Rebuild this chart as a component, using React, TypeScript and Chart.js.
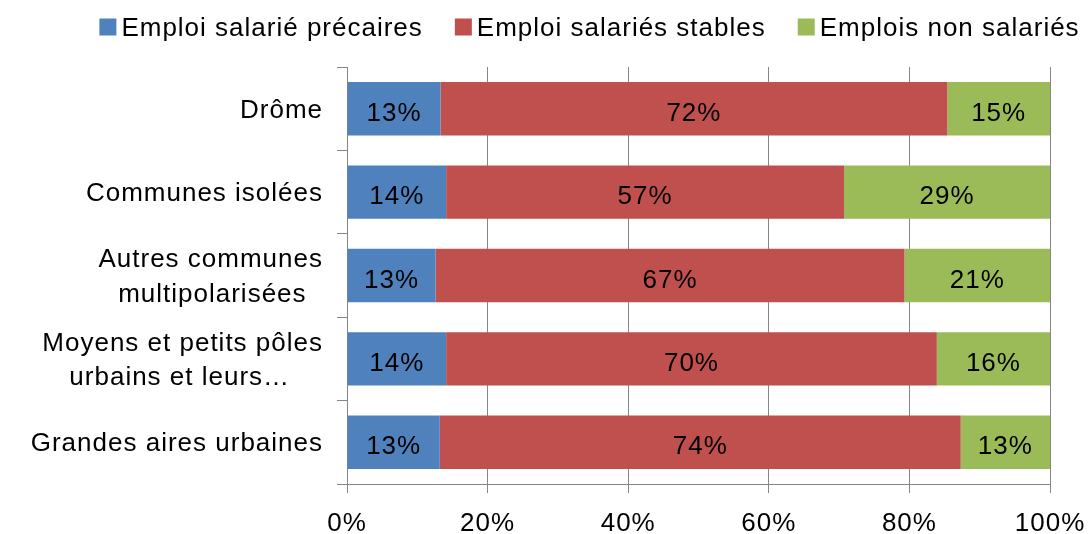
import React, { useEffect, useRef } from 'react';
import { Chart, registerables } from 'chart.js';

Chart.register(...registerables);

const FONT = '"Liberation Sans", Arial, sans-serif';

const categories: (string | string[])[] = [
  'Drôme',
  'Communes isolées',
  ['Autres communes', 'multipolarisées\u00a0\u00a0'],
  ['Moyens et petits pôles', 'urbains et leurs…\u00a0\u00a0\u00a0\u00a0'],
  'Grandes aires urbaines',
];
const seriesNames = ['Emploi salarié précaires', 'Emploi salariés stables', 'Emplois non salariés'];
const precaires = [13.3, 14.1, 12.6, 14.1, 13.2];
const stables = [72.1, 56.6, 66.7, 69.8, 74.1];
const nonSalaries = [14.6, 29.3, 20.7, 16.1, 12.7];
const xTicks = [0, 20, 40, 60, 80, 100];
const colors = ['#4F81BD', '#C0504D', '#9BBB59'];

const GRAY = '#868686';

const spacingPlugin = {
  id: 'letterSpacing',
  beforeUpdate(chart: any) {
    chart.ctx.letterSpacing = '1px';
  },
  beforeLayout(chart: any) {
    chart.ctx.letterSpacing = '1px';
  },
  beforeDraw(chart: any) {
    chart.ctx.letterSpacing = '1px';
  },
};

const legendPlugin = {
  id: 'topLegend',
  afterDraw(chart: any) {
    const ctx = chart.ctx;
    ctx.save();
    ctx.font = `26px ${FONT}`;
    ctx.letterSpacing = '1px';
    const box = 17;
    const gap = 5;
    const spacing = 32;
    const ds = chart.data.datasets;
    const widths = ds.map((d: any) => ctx.measureText(d.label).width);
    const total =
      widths.reduce((a: number, b: number) => a + b, 0) +
      ds.length * (box + gap) +
      (ds.length - 1) * spacing;
    let x = 589.5 - total / 2;
    const yMid = 27;
    ds.forEach((d: any, i: number) => {
      ctx.fillStyle = d.backgroundColor;
      ctx.fillRect(x, yMid - box / 2, box, box);
      x += box + gap;
      ctx.fillStyle = '#000';
      ctx.textAlign = 'left';
      ctx.textBaseline = 'middle';
      ctx.fillText(d.label, x, yMid + 2);
      x += widths[i] + spacing;
    });
    ctx.restore();
  },
};

const valueLabelPlugin = {
  id: 'valueLabels',
  afterDatasetsDraw(chart: any) {
    const ctx = chart.ctx;
    ctx.save();
    ctx.font = `26px ${FONT}`;
    ctx.letterSpacing = '1px';
    ctx.fillStyle = '#000';
    ctx.textAlign = 'center';
    ctx.textBaseline = 'middle';
    chart.data.datasets.forEach((ds: any, i: number) => {
      const meta = chart.getDatasetMeta(i);
      meta.data.forEach((el: any, j: number) => {
        const { x, base, y } = el.getProps(['x', 'base', 'y'], true);
        ctx.fillText(`${Math.round(ds.data[j])}%`, (x + base) / 2, y + 5);
      });
    });
    ctx.restore();
  },
};

export default function App() {
  const canvasRef = useRef<HTMLCanvasElement | null>(null);

  useEffect(() => {
    if (!canvasRef.current) return;
    const seriesData = [precaires, stables, nonSalaries];
    const chart = new Chart(canvasRef.current, {
      type: 'bar',
      data: {
        labels: categories as any,
        datasets: seriesNames.map((name, i) => ({
          label: name,
          data: seriesData[i],
          backgroundColor: colors[i],
          borderWidth: 0,
          barPercentage: 0.64,
          categoryPercentage: 1,
        })),
      },
      options: {
        indexAxis: 'y',
        animation: false,
        responsive: true,
        maintainAspectRatio: false,
        events: [],
        layout: { padding: { top: 67, left: 0, right: 0, bottom: 0 } },
        plugins: {
          legend: { display: false },
          tooltip: { enabled: false },
          title: { display: false },
        },
        scales: {
          x: {
            type: 'linear',
            stacked: true,
            min: 0,
            max: 100,
            afterBuildTicks: (scale: any) => {
              scale.ticks = xTicks.map((v) => ({ value: v }));
            },
            afterFit: (scale: any) => {
              scale.height = 50;
              scale.paddingRight = 42;
            },
            ticks: {
              callback: (v: any) => `${v}%`,
              color: '#000',
              font: { family: FONT, size: 26 },
              padding: 15,
              maxRotation: 0,
            },
            grid: {
              color: GRAY,
              lineWidth: 1,
              tickLength: 9,
              drawTicks: true,
            },
            border: { display: true, color: GRAY, width: 1 },
          },
          y: {
            type: 'category',
            stacked: true,
            afterFit: (scale: any) => {
              scale.width = 347;
            },
            ticks: {
              color: '#000',
              font: { family: FONT, size: 26, lineHeight: 1.33 },
              padding: 14,
              labelOffset: 2,
            },
            grid: {
              drawOnChartArea: false,
              drawTicks: true,
              tickLength: 10,
              color: GRAY,
              offset: true,
            },
            border: { display: true, color: GRAY, width: 1 },
          },
        },
      },
      plugins: [spacingPlugin, valueLabelPlugin, legendPlugin],
    });
    return () => chart.destroy();
  }, []);

  return (
    <div style={{ position: 'absolute', left: 0, top: 0, width: 1092, height: 534, background: '#fff' }}>
      <canvas ref={canvasRef} />
    </div>
  );
}
